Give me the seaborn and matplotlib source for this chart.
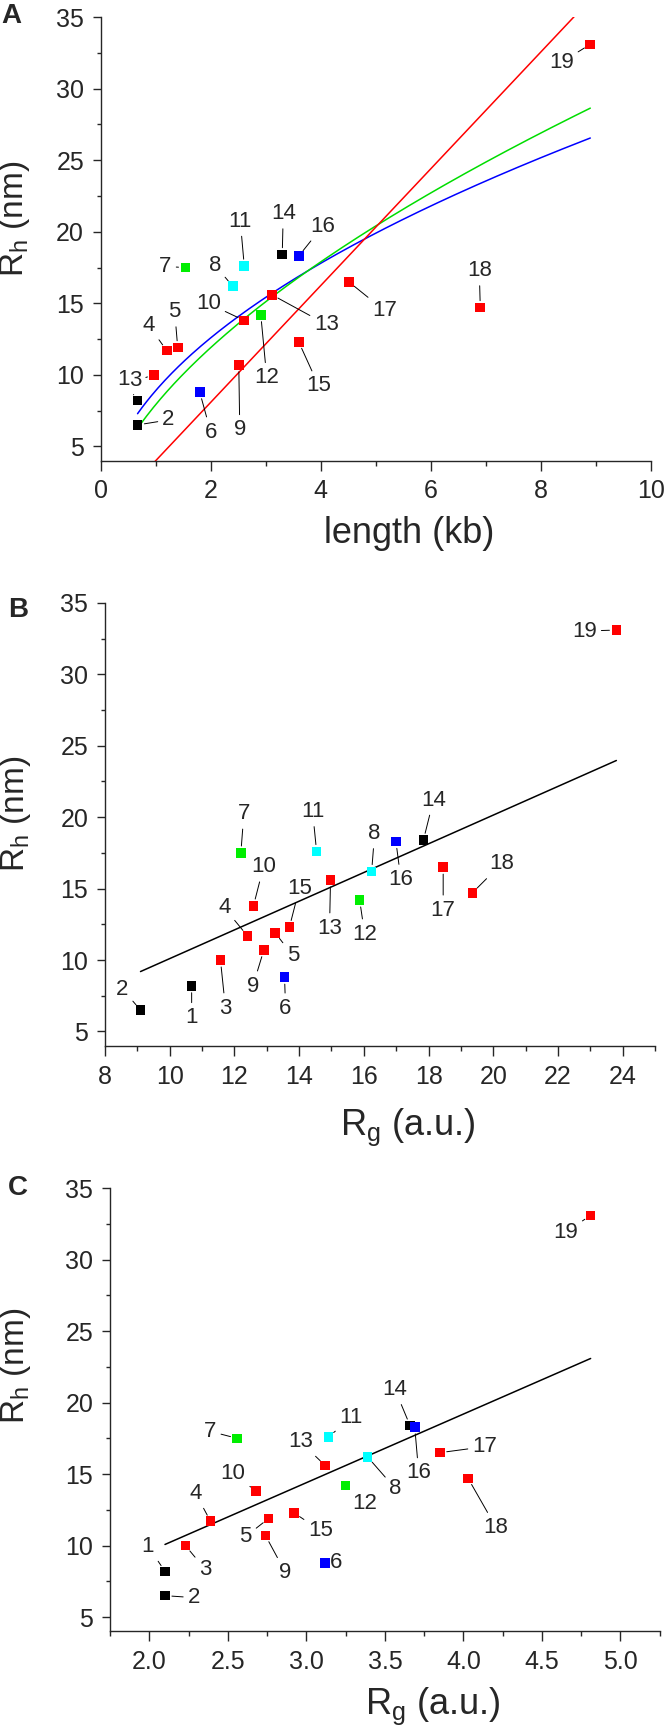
import numpy as np
import pandas as pd
import seaborn as sns
import matplotlib.pyplot as plt
from matplotlib.ticker import MultipleLocator

# data: Rh vs length (A), vs Rg (B), vs Rg (C)
ids = list(range(1, 20))
length_kb = [0.67, 0.67, 0.97, 1.2, 1.4, 1.8, 1.54, 2.4, 2.51, 2.61,
             2.61, 2.91, 3.11, 3.3, 3.6, 3.6, 4.51, 6.9, 8.9]
rh_nm = [8.2, 6.5, 10.0, 11.7, 11.9, 8.8, 17.5, 16.2, 10.7, 13.8,
         17.6, 14.2, 15.6, 18.4, 12.3, 18.3, 16.5, 14.7, 33.1]
rg_b = [10.68, 9.1, 11.57, 12.4, 13.26, 13.55, 12.2, 16.24, 12.91, 12.59,
        14.54, 15.87, 14.97, 17.84, 13.7, 16.99, 18.45, 19.35, 23.8]
rg_c = [2.10, 2.10, 2.23, 2.39, 2.76, 3.12, 2.56, 3.39, 2.74, 2.68,
        3.14, 3.25, 3.12, 3.66, 2.92, 3.69, 3.85, 4.03, 4.81]
group = ['black', 'black', 'red', 'red', 'red', 'blue', 'green', 'cyan', 'red', 'red',
         'cyan', 'green', 'red', 'black', 'red', 'blue', 'red', 'red', 'red']

# fits (a * x**b for A curves, slope/intercept for lines)
fit_sqrt = (8.9, 0.5)
fit_flory = (7.92, 0.588)
fit_lin_a = (4.08, -0.08)
fit_lin_b = (1.005, 0.05)
fit_lin_c = (4.80, 0.0)

df = pd.DataFrame({'id': ids, 'length': length_kb, 'rh': rh_nm,
                   'rg_b': rg_b, 'rg_c': rg_c, 'group': group})
palette = {'black': '#000000', 'red': '#ff0000', 'blue': '#0000ff',
           'green': '#00ee00', 'cyan': '#00ffff'}

# label offsets in pixels (dx, dy) for each point, per panel
off_a = [(-14, 21), (31, 5), (-19, -6), (-18, 25), (-3, 36), (11, -40), (-20, 1),
         (-18, 21), (1, -65), (-36, 17), (-4, 45), (6, -63), (55, -30), (1, 41),
         (20, -44), (24, 30), (36, -29), (-1, 37), (-29, -18)]
off_b = [(0, -32), (-18, 21), (5, -48), (-23, 28), (18, -23), (1, -31), (3, 39),
         (3, 38), (-11, -36), (10, 39), (-4, 40), (5, -34), (-1, -48), (10, 40),
         (10, 39), (5, -38), (0, -43), (29, 29), (-32, -1)]
off_c = [(-17, 25), (29, -2), (20, -24), (-15, 28), (-23, -18), (11, 0), (-27, 7),
         (28, -32), (20, -37), (-23, 18), (23, 19), (19, -18), (-25, 24), (-15, 36),
         (27, -18), (4, -46), (45, 6), (28, -49), (-25, -17)]

sns.set_style('ticks')
plt.rcParams['font.family'] = ['Liberation Sans', 'DejaVu Sans']
plt.rcParams['mathtext.fontset'] = 'custom'
plt.rcParams['mathtext.rm'] = 'Liberation Sans'
plt.rcParams['axes.linewidth'] = 1.0

fig = plt.figure(figsize=(6.66, 17.30), dpi=100)
ax_a = fig.add_axes([0.1512, 0.7337, 0.826, 0.2564])
ax_b = fig.add_axes([0.1575, 0.3955, 0.8263, 0.2560])
ax_c = fig.add_axes([0.1652, 0.0570, 0.8254, 0.2562])


def draw_points(ax, xcol, offsets):
    sns.scatterplot(data=df, x=xcol, y='rh', hue='group', palette=palette,
                    marker='s', s=48, linewidth=0, legend=False, ax=ax, zorder=4)
    for (i, x, y), (dx, dy) in zip(df[['id', xcol, 'rh']].values, offsets):
        ax.annotate(str(int(i)), (x, y), xytext=(dx, dy), textcoords='offset pixels',
                    ha='center', va='center', fontsize=16,
                    arrowprops=dict(arrowstyle='-', color='k', lw=0.7,
                                    shrinkA=1, shrinkB=5))


def style(ax, xmin, xmax, xmaj, xmin_step, letter, lab_pos):
    ax.set_xlim(xmin, xmax)
    ax.set_ylim(4, 35)
    ax.xaxis.set_major_locator(MultipleLocator(xmaj))
    ax.xaxis.set_minor_locator(MultipleLocator(xmin_step))
    ax.yaxis.set_major_locator(MultipleLocator(5))
    ax.yaxis.set_minor_locator(MultipleLocator(2.5))
    ax.tick_params(axis='x', which='major', length=7, width=1, pad=6.5, labelsize=18)
    ax.tick_params(axis='x', which='minor', length=3.8, width=1)
    ax.tick_params(axis='y', which='major', length=6, width=1, pad=6, labelsize=18)
    ax.tick_params(axis='y', which='minor', length=3.1, width=1)
    sns.despine(ax=ax)
    ax.set_ylabel(r'$\mathregular{R_h}$ (nm)', fontsize=24)
    ax.yaxis.set_label_coords(*lab_pos[0])
    ax.xaxis.set_label_coords(*lab_pos[1])
    ax.text(lab_pos[2][0], lab_pos[2][1], letter, transform=fig.transFigure,
            fontsize=20, fontweight='bold', ha='left', va='top')


# panel A
xs = np.linspace(min(length_kb), max(length_kb), 200)
sns.lineplot(x=xs, y=fit_sqrt[0] * xs ** fit_sqrt[1], color='#0000ff', lw=1.1, ax=ax_a)
sns.lineplot(x=xs, y=fit_flory[0] * xs ** fit_flory[1], color='#00dd00', lw=1.1, ax=ax_a)
sns.lineplot(x=xs, y=fit_lin_a[0] * xs + fit_lin_a[1], color='#ff0000', lw=1.1, ax=ax_a)
draw_points(ax_a, 'length', off_a)
ax_a.set_xlabel('length (kb)', fontsize=26)
style(ax_a, 0, 10, 2, 1, 'A', [(-0.124, 0.546), (0.56, -0.124), (0.002, 0.998)])

# panel B
xs = np.linspace(min(rg_b), max(rg_b), 50)
sns.lineplot(x=xs, y=fit_lin_b[0] * xs + fit_lin_b[1], color='k', lw=1.1, ax=ax_b)
draw_points(ax_b, 'rg_b', off_b)
ax_b.set_xlabel(r'$\mathregular{R_g}$ (a.u.)', fontsize=26)
style(ax_b, 8, 25, 2, 1, 'B', [(-0.131, 0.523), (0.55, -0.138), (0.012, 0.655)])

# panel C
xs = np.linspace(min(rg_c), max(rg_c), 50)
sns.lineplot(x=xs, y=fit_lin_c[0] * xs + fit_lin_c[1], color='k', lw=1.1, ax=ax_c)
draw_points(ax_c, 'rg_c', off_c)
ax_c.set_xlabel(r'$\mathregular{R_g}$ (a.u.)', fontsize=26)
ax_c.xaxis.set_major_formatter(plt.FormatStrFormatter('%.1f'))
style(ax_c, 1.75, 5.25, 0.5, 0.25, 'C', [(-0.141, 0.599), (0.588, -0.122), (0.012, 0.321)])

fig.savefig('out.png', dpi=100)
